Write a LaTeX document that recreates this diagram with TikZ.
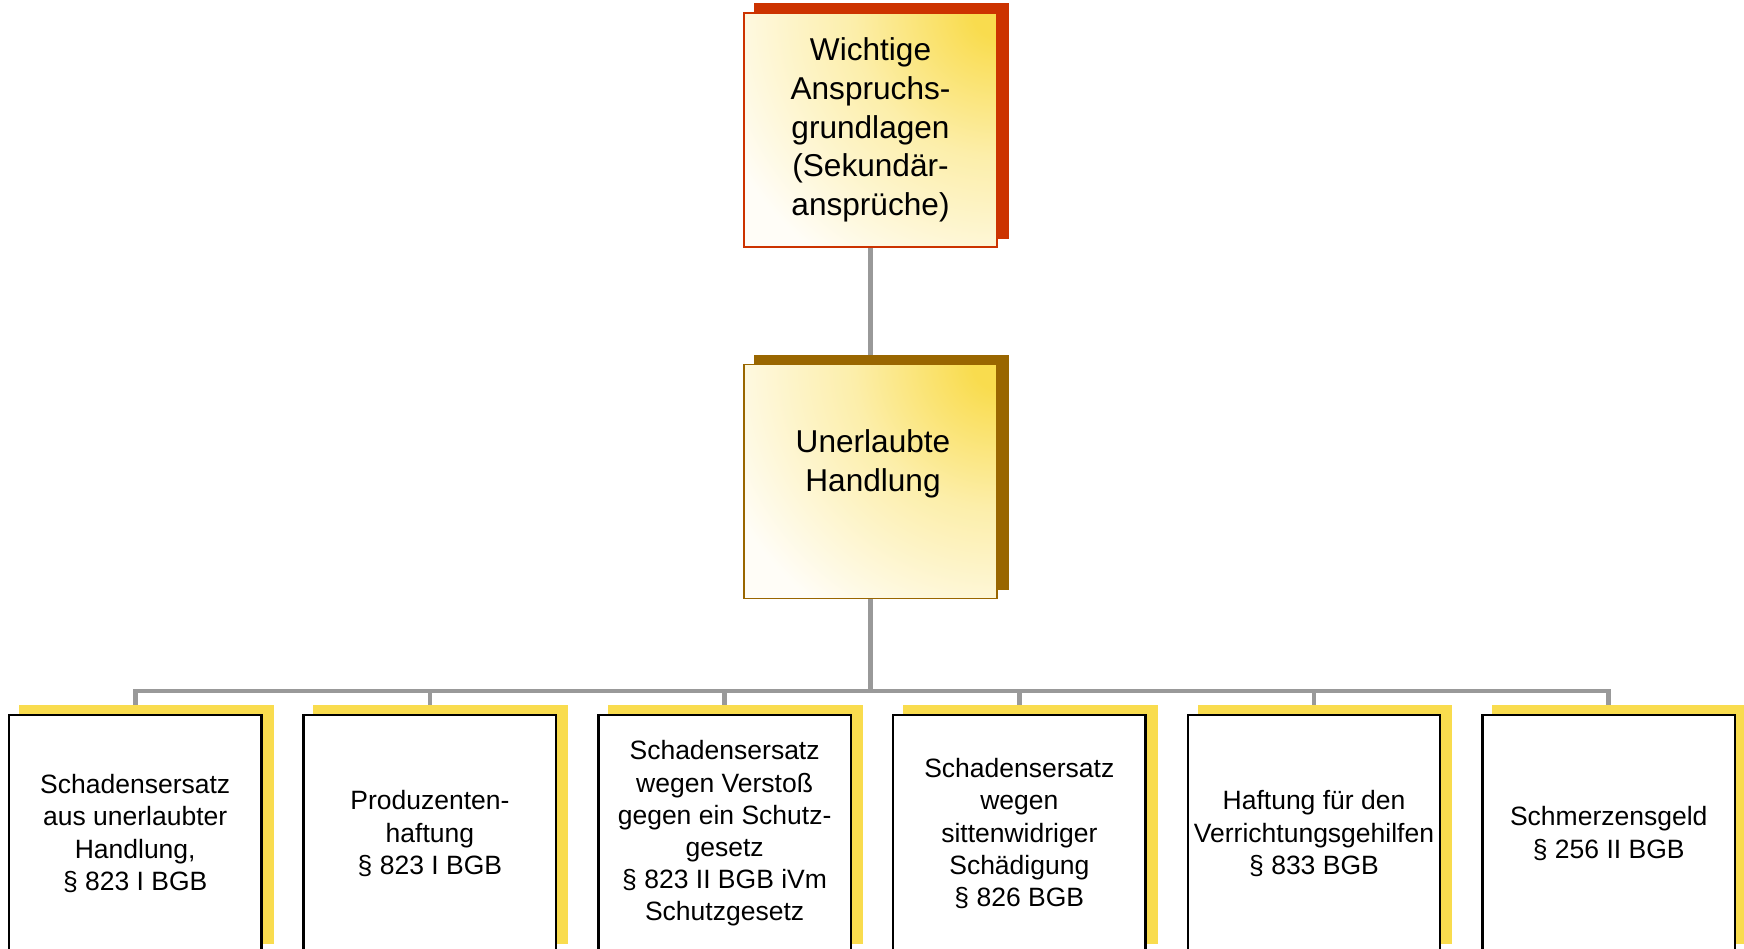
\documentclass[tikz,border=0pt]{standalone}
\usepackage{fontspec}
\setmainfont{Liberation Sans}
\usetikzlibrary{backgrounds}
\definecolor{redc}{HTML}{CC3300}
\definecolor{brownc}{HTML}{996600}
\definecolor{goldc}{HTML}{F9DC4E}
\definecolor{linec}{HTML}{999999}
\definecolor{offwhite}{HTML}{FFFDF7}
\pgfdeclareradialshading{glow}{\pgfpointorigin}{color(0bp)=(goldc); color(2bp)=(goldc); color(12bp)=(goldc!48!white); color(25bp)=(offwhite); color(50bp)=(offwhite)}
\tikzset{
  bigbox/.style={draw, fill=offwhite, line width=0.8pt, minimum width=126.5pt, minimum height=117pt, inner sep=0pt,
    align=center, font=\fontsize{15.8pt}{19.3pt}\selectfont,
    path picture={\shade[shading=glow] (path picture bounding box.north east) circle (150pt);}},
  bigtext/.style={align=center, inner sep=0pt, font=\fontsize{15.8pt}{19.3pt}\selectfont},
  smallbox/.style={draw=black, fill=white, line width=1.2pt, minimum width=126.25pt, minimum height=118.5pt,
    inner sep=0pt, align=center, font=\fontsize{13.25pt}{16.1pt}\selectfont},
  conn/.style={draw=linec, line width=2.4pt},
}
\begin{document}
\begin{tikzpicture}[x=0.5pt, y=-0.5pt]
\useasboundingbox (0,0) rectangle (1744,948);
% main boxes
\node[bigbox, draw=redc] (top) at (870.5,130) {Wichtige\\Anspruchs-\\grundlagen\\ (Sekundär-\\ansprüche)};
\node[bigbox, draw=brownc] (mid) at (870.5,481.5) {};
\node[bigtext] (midtext) at (873,464) {Unerlaubte\\Handlung};
% bottom boxes
\node[smallbox] (b1) at (135.2,833.5) {Schadensersatz\\aus unerlaubter\\Handlung,\\§ 823 I BGB};
\node[smallbox] (b2) at (429.9,833.5) {Produzenten-\\haftung\\§ 823 I BGB};
\node[smallbox] (b3) at (724.6,833.5) {Schadensersatz\\wegen Verstoß\\gegen ein Schutz-\\gesetz\\§ 823 II BGB iVm\\Schutzgesetz};
\node[smallbox] (b4) at (1019.3,833.5) {Schadensersatz\\wegen\\sittenwidriger\\Schädigung\\§ 826 BGB};
\node[smallbox] (b5) at (1314.0,833.5) {Haftung für den\\Verrichtungsgehilfen\\§ 833 BGB};
\node[smallbox] (b6) at (1608.7,833.5) {Schmerzensgeld\\§ 256 II BGB};
\coordinate (bus) at (0,691);
\begin{scope}[on background layer]
  % connectors
  \draw[conn] (top.south) -- (mid.north);
  \draw[conn] (mid.south) -- (mid.south |- bus);
  \draw[conn] (b1.north) -- (b1.north |- bus) -- (b6.north |- bus) -- (b6.north);
  \foreach \b in {b2,b3,b4,b5} { \draw[conn] (\b.north |- bus) -- (\b.north); }
  % shadows
  \fill[redc] ([shift={(5.5pt,4.5pt)}]top.south west) rectangle ([shift={(5.5pt,4.5pt)}]top.north east);
  \fill[brownc] ([shift={(5.5pt,4.5pt)}]mid.south west) rectangle ([shift={(5.5pt,4.5pt)}]mid.north east);
  \foreach \b in {b1,b2,b3,b4,b5,b6} {
    \fill[goldc] ([shift={(5.5pt,4.5pt)}]\b.south west) rectangle ([shift={(5.5pt,4.5pt)}]\b.north east);
  }
\end{scope}
\end{tikzpicture}
\end{document}
